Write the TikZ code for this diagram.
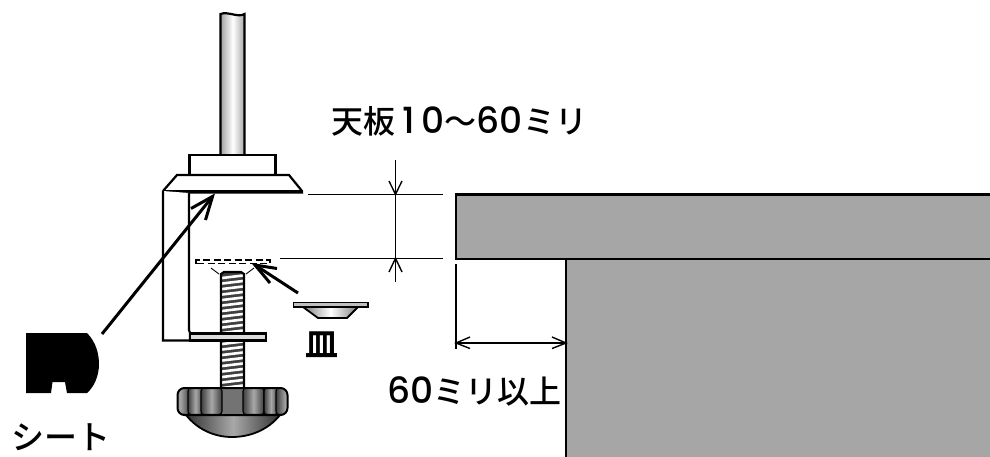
\documentclass[tikz,border=0pt]{standalone}
\usepackage{fontspec}
\newfontfamily\cjk{Noto Sans CJK JP Medium}
\newfontfamily\cjkb{Noto Sans CJK JP Bold}
\newfontfamily\wide{Poppins Medium}
\newcommand{\widedigits}[1]{{\wide\fontsize{36}{36}\selectfont #1}}
\begin{document}
\begin{tikzpicture}[x=1pt,y=-1pt,line join=miter,
  outline/.style={draw=black,line width=2.2pt},
  thin dim/.style={draw=black,line width=1.4pt},
  callout/.style={draw=black,line width=3pt},
  table part/.style={fill=tablegray,draw=black,line width=2.2pt},
  label text/.style={inner sep=0pt,anchor=west,font=\fontsize{32}{32}\selectfont\cjk},
  flute/.style={draw=black,line width=1.1pt,rounded corners=3pt,left color=knobdark,right color=knobdark,middle color=knoblight}]
\definecolor{tablegray}{HTML}{A6A6A6}
\definecolor{knobdark}{HTML}{3E3E3E}
\definecolor{knoblight}{HTML}{A8A8A8}
\useasboundingbox (0,0) rectangle (990,456);
% table
\path[table part] (456,194.5) rectangle (996,259);
\path[table part] (566,259) rectangle (996,462);
% pole
\shade[left color=black!35,right color=black!35,middle color=white]
  (221,14) .. controls (228,11) and (238,18) .. (244.5,14) -- (244.5,155) -- (221,155) -- cycle;
\draw[outline] (244.5,155) -- (244.5,14) .. controls (238,18) and (228,11) .. (220.5,14) -- (220.5,155);
% collar and flare
\draw[outline,fill=white] (189.5,175) rectangle (275.5,155);
\draw[outline,fill=white] (163,191) -- (177,175) -- (289,175) -- (302,191) -- (302,192.5) -- (189,192.5);
\draw[outline] (163,191.5) -- (302,191.5);
% clamp body
\draw[outline,fill=white] (163,191) -- (163,340.5) -- (190,340.5) -- (190,333) -- (189,330) -- (189,193);
% bolt
\fill[black!75] (221,274) -- (224,272) -- (241,272) -- (244,274) -- (244,388) -- (221,388) -- cycle;
\foreach \yy in {278,283.5,...,388}{\draw[white,line width=2.6pt] (222,\yy) -- (243,\yy-2.5);}
\draw[outline] (221,388) -- (221,274) -- (224,272) -- (241,272) -- (244,274) -- (244,388);
% lower plate
\draw[outline,fill=black!14] (190,333.5) rectangle (266,340.5);
% knob
\shade[left color=black!80,right color=black!80,middle color=knoblight,draw=black,line width=1.8pt]
  (186,415) .. controls (198,430) and (215,437) .. (232,437) .. controls (250,437) and (268,430) .. (280,415) -- cycle;
\begin{scope}
\clip[rounded corners=7pt] (177.5,388) rectangle (287.5,415);
\fill[black!55] (177.5,388) rectangle (287.5,415);
\path[flute] (170,388) rectangle (190,414.5);
\path[flute] (188,388) rectangle (203,414.5);
\path[flute] (201,388) rectangle (222,414.5);
\path[flute] (243,388) rectangle (264,414.5);
\path[flute] (264,388) rectangle (278,414.5);
\path[flute] (276,388) rectangle (295,414.5);
\end{scope}
\draw[black,line width=2pt,rounded corners=7pt] (177.5,388) rectangle (287.5,415);
% dashed outline of the dish
\draw[black,line width=1.2pt,dash pattern=on 7pt off 3.5pt] (196,263.5) -- (196,260) -- (270,260) -- (270,263.5) -- cycle;
\draw[black,line width=.9pt] (211,268) -- (219,274);
\draw[black,line width=.9pt] (254,268) -- (246,274);
% dish
\shade[left color=black!50,right color=black!50,middle color=white,draw=black,line width=1.8pt]
  (303,307) -- (318,318) -- (347,318) -- (358,307) -- cycle;
\draw[line width=1.8pt,fill=black!25] (293.5,302.5) rectangle (368,307);
% sheet
\fill[black] (26,333) -- (87,333) .. controls (96,342) and (99,354) .. (99,364) .. controls (99,376) and (94,387) .. (87,393)
  -- (67,393) -- (65,382) -- (52.5,382) -- (51,393) -- (26,393) -- cycle;
% callouts
\coordinate (sheetStart) at (102,334);
\coordinate (sheetTip) at (212.5,196.5);
\draw[callout] (sheetStart) -- (sheetTip);
\draw[callout] (191,208.5) -- (sheetTip) -- (205.5,220);
\coordinate (dishStart) at (298,293);
\coordinate (dishTip) at (255,265);
\draw[callout] (dishStart) -- (dishTip);
\draw[callout] (277,268.5) -- (dishTip) -- (270,283);
% vertical dimension
\coordinate (topA) at (395.5,194.3);
\coordinate (topB) at (395.5,258.3);
\draw[thin dim] (395.5,160) -- (395.5,282);
\draw[thin dim] (308,194.3) -- (443,194.3);
\draw[thin dim] (279.5,258.3) -- (443,258.3);
\draw[thin dim] (389,181) -- (topA) -- (402,181);
\draw[thin dim] (389,272) -- (topB) -- (402,272);
% horizontal dimension
\coordinate (legA) at (456,343);
\coordinate (legB) at (566,343);
\draw[thin dim] (456,264) -- (456,349);
\draw[thin dim] (legA) -- (legB);
\draw[thin dim] (470,337) -- (legA) -- (470,348.5);
\draw[thin dim] (552,337) -- (legB) -- (552,348.5);
% labels
\node[label text] (thickness) at (331,121) {天板\hspace{7pt}\widedigits{1}\hspace{7pt}\widedigits{0}〜\widedigits{60}ミリ};
\node[label text] (overhang) at (387,391) {\widedigits{60}ミリ以上};
\node[label text,font=\fontsize{33}{33}\selectfont\cjk] (sheetlabel) at (11,437) {シート};
\node[inner sep=0pt,anchor=center,font=\fontsize{33}{33}\selectfont\cjkb] (dishlabel) at (322,345) {皿};
\end{tikzpicture}
\end{document}
